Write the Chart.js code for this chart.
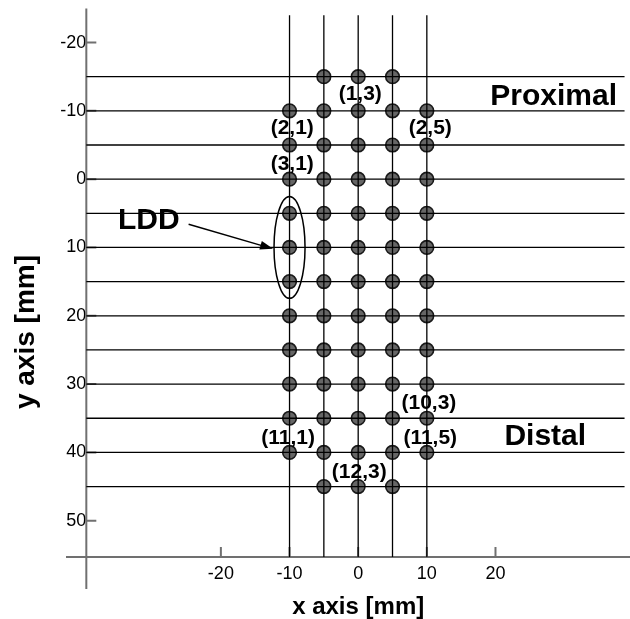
<!DOCTYPE html>
<html>
<head>
<meta charset="utf-8">
<script src="https://cdn.jsdelivr.net/npm/chart.js@4.4.1/dist/chart.umd.min.js"></script>
<style>
  html, body { margin: 0; padding: 0; background: #fff; }
</style>
</head>
<body>
<canvas id="chart" width="630" height="619"></canvas>
<script>
// electrode grid: columns (x) and rows (y), in mm
const columnsX = [-10, -5, 0, 5, 10];
const rowsY = [-15, -10, -5, 0, 5, 10, 15, 20, 25, 30, 35, 40, 45];
// which columns hold an electrode in each row
const electrodeRows = [
  [-5, 0, 5],
  [-10, -5, 0, 5, 10],
  [-10, -5, 0, 5, 10],
  [-10, -5, 0, 5, 10],
  [-10, -5, 0, 5, 10],
  [-10, -5, 0, 5, 10],
  [-10, -5, 0, 5, 10],
  [-10, -5, 0, 5, 10],
  [-10, -5, 0, 5, 10],
  [-10, -5, 0, 5, 10],
  [-10, -5, 0, 5, 10],
  [-10, -5, 0, 5, 10],
  [-5, 0, 5]
];
const xTickValues = [-20, -10, 0, 10, 20];
const yTickValues = [-20, -10, 0, 10, 20, 30, 40, 50];
const electrodeLabels = ["(1,3)", "(2,1)", "(2,5)", "(3,1)", "(10,3)", "(11,1)", "(11,5)", "(12,3)"];

// axis extents and crossing
const xMin = -42.56, xMax = 38.37;
const yMin = -25, yMax = 60;
const yAxisAtX = -39.6;   // where the vertical axis sits
const xAxisAtY = 55.3;    // where the horizontal axis sits
const lineTopY = -24;
const lineRightX = 38.8;

// label positions (data coords), same order as electrodeLabels
const labelPos = [
  [0.3, -12.4], [-9.6, -7.5], [10.5, -7.5], [-9.6, -2.2],
  [10.3, 32.8], [-10.2, 37.9], [10.5, 37.9], [0.15, 42.9]
];

const FONT = "'Liberation Sans', Arial, sans-serif";

const electrodes = rowsY.flatMap((y, i) => electrodeRows[i].map(x => ({ x: x, y: y })));

const datasets = [];
columnsX.forEach(x => {
  datasets.push({
    data: [{ x: x, y: lineTopY }, { x: x, y: xAxisAtY }],
    showLine: true, pointRadius: 0, borderColor: "#000", borderWidth: 1.3, order: 0
  });
});
rowsY.forEach(y => {
  datasets.push({
    data: [{ x: yAxisAtX, y: y }, { x: lineRightX, y: y }],
    showLine: true, pointRadius: 0, borderColor: "#000", borderWidth: 1.3, order: 0,
    clip: false
  });
});
datasets.push({
  data: electrodes,
  pointRadius: 6.8,
  pointBackgroundColor: "#666666",
  pointBorderColor: "#1a1a1a",
  pointBorderWidth: 1.6,
  order: 1
});

const zeroPad = s => { s.paddingTop = 0; s.paddingBottom = 0; s.paddingLeft = 0; s.paddingRight = 0; };

// axes with inner ticks, plus the text notes
const extras = {
  id: "extras",
  beforeDatasetsDraw(chart) {
    const { ctx, chartArea, scales: { x, y } } = chart;
    const ax = x.getPixelForValue(yAxisAtX);
    const ay = y.getPixelForValue(xAxisAtY);
    ctx.save();
    ctx.strokeStyle = "#707070";
    ctx.lineWidth = 2;
    ctx.beginPath();
    ctx.moveTo(ax, chartArea.top);
    ctx.lineTo(ax, chartArea.bottom);
    ctx.moveTo(chartArea.left, ay);
    ctx.lineTo(chart.width, ay);
    yTickValues.forEach(v => {
      const py = y.getPixelForValue(v);
      ctx.moveTo(ax, py);
      ctx.lineTo(ax + 10, py);
    });
    xTickValues.forEach(v => {
      const px = x.getPixelForValue(v);
      ctx.moveTo(px, ay);
      ctx.lineTo(px, ay - 10);
    });
    ctx.stroke();
    ctx.restore();
  },
  afterDatasetsDraw(chart) {
    const { ctx, scales: { x, y } } = chart;
    ctx.save();
    ctx.fillStyle = "#000";
    ctx.textBaseline = "middle";

    // electrode labels
    ctx.font = "bold 21px " + FONT;
    ctx.textAlign = "center";
    electrodeLabels.forEach((t, i) => {
      ctx.fillText(t, x.getPixelForValue(labelPos[i][0]), y.getPixelForValue(labelPos[i][1]));
    });

    // region names
    ctx.font = "bold 30px " + FONT;
    ctx.textAlign = "right";
    ctx.fillText("Proximal", x.getPixelForValue(37.7), y.getPixelForValue(-12.0));
    ctx.fillText("Distal", x.getPixelForValue(33.2), y.getPixelForValue(37.7));
    ctx.textAlign = "left";
    ctx.fillText("LDD", x.getPixelForValue(-35.0), y.getPixelForValue(6.1));

    // ellipse round the LDD electrodes
    ctx.strokeStyle = "#000";
    ctx.lineWidth = 1.5;
    const cx = x.getPixelForValue(-10), cy = y.getPixelForValue(10);
    const rx = x.getPixelForValue(-10 + 2.26) - cx;
    const ry = y.getPixelForValue(10 + 7.45) - cy;
    ctx.beginPath();
    ctx.ellipse(cx, cy, rx, ry, 0, 0, Math.PI * 2);
    ctx.stroke();

    // arrow
    const x0 = x.getPixelForValue(-24.7), y0 = y.getPixelForValue(6.6);
    const x1 = x.getPixelForValue(-12.4), y1 = y.getPixelForValue(10.2);
    const ang = Math.atan2(y1 - y0, x1 - x0);
    ctx.beginPath();
    ctx.moveTo(x0, y0);
    ctx.lineTo(x1 - 8 * Math.cos(ang), y1 - 8 * Math.sin(ang));
    ctx.stroke();
    ctx.beginPath();
    ctx.moveTo(x1, y1);
    ctx.lineTo(x1 - 13 * Math.cos(ang) + 4.5 * Math.sin(ang), y1 - 13 * Math.sin(ang) - 4.5 * Math.cos(ang));
    ctx.lineTo(x1 - 13 * Math.cos(ang) - 4.5 * Math.sin(ang), y1 - 13 * Math.sin(ang) + 4.5 * Math.cos(ang));
    ctx.closePath();
    ctx.fill();

    // axis titles
    ctx.font = "bold 24px " + FONT;
    ctx.textAlign = "center";
    ctx.fillText("x axis [mm]", x.getPixelForValue(0), 607);
    ctx.font = "bold 28px " + FONT;
    ctx.translate(26, 332);
    ctx.rotate(-Math.PI / 2);
    ctx.fillText("y axis [mm]", 0, 0);
    ctx.restore();
  }
};

new Chart(document.getElementById("chart"), {
  type: "scatter",
  data: { datasets: datasets },
  options: {
    responsive: false,
    animation: false,
    layout: { padding: { left: 66, right: 0, top: 7, bottom: 30 } },
    plugins: { legend: { display: false }, tooltip: { enabled: false } },
    scales: {
      x: {
        type: "linear",
        min: xMin, max: xMax,
        position: { y: xAxisAtY },
        grid: { display: false, drawTicks: false },
        border: { display: false },
        afterBuildTicks: s => { s.ticks = xTickValues.map(v => ({ value: v })); },
        afterFit: zeroPad,
        ticks: { padding: 6, color: "#000", font: { family: FONT, size: 18 }, maxRotation: 0, autoSkip: false }
      },
      y: {
        type: "linear",
        reverse: true,
        min: yMin, max: yMax,
        position: { x: yAxisAtX },
        grid: { display: false, drawTicks: false },
        border: { display: false },
        afterBuildTicks: s => { s.ticks = yTickValues.map(v => ({ value: v })); },
        afterFit: zeroPad,
        ticks: { padding: 2, color: "#000", font: { family: FONT, size: 18 }, autoSkip: false }
      }
    }
  },
  plugins: [extras]
});
</script>
</body>
</html>
